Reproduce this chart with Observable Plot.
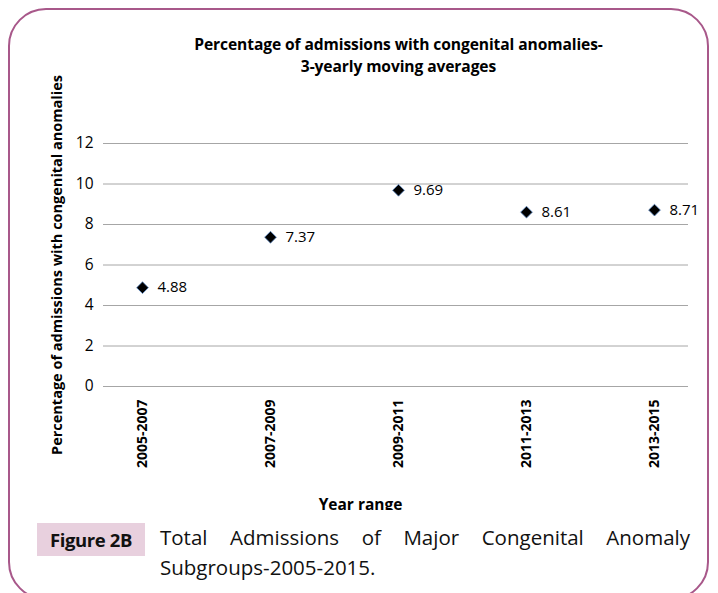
<!DOCTYPE html>
<html>
<head>
<meta charset="utf-8">
<script src="https://cdn.jsdelivr.net/npm/d3@7"></script>
<script src="https://cdn.jsdelivr.net/npm/@observablehq/plot@0.6"></script>
<style>
  html, body { margin: 0; padding: 0; background: #fff; }
  #wrap { position: relative; width: 718px; height: 593px; overflow: hidden; font-family: "Open Sans", sans-serif; }
  #frame { position: absolute; left: 8px; top: 8px; width: 701px; height: 592px; border: 2px solid #a8588a; border-radius: 38px; box-sizing: border-box; }
  #title { position: absolute; left: 0; width: 797px; top: 33px; text-align: center; font-weight: bold; font-size: 15.6px; line-height: 22px; color: #000; letter-spacing: -0.1px; }
  #chart { position: absolute; left: 0; top: 0; }
  #chart svg { overflow: hidden; }
  #figlabel { position: absolute; left: 37px; top: 523px; width: 108px; height: 33px; background: #e8d0de; font-weight: bold; font-size: 18.5px; line-height: 33px; text-align: center; color: #111; letter-spacing: -0.4px; }
  #caption { position: absolute; left: 160px; top: 522px; width: 530px; font-size: 20.5px; line-height: 30px; color: #111; }
  #caption .l1 { text-align: justify; text-align-last: justify; }
</style>
</head>
<body>
<div id="wrap">
  <div id="frame"></div>
  <div id="chart"></div>
  <div id="title">Percentage of admissions with congenital anomalies-<br>3-yearly moving averages</div>
  <div id="figlabel">Figure 2B</div>
  <div id="caption"><div class="l1">Total Admissions of Major Congenital Anomaly</div><div>Subgroups-2005-2015.</div></div>
</div>
<script>
const yearRanges = ["2005-2007", "2007-2009", "2009-2011", "2011-2013", "2013-2015"];
const percentages = [4.88, 7.37, 9.69, 8.61, 8.71];
const yTicks = [0, 2, 4, 6, 8, 10, 12];
const yLabel = "Percentage of admissions with congenital anomalies";
const xLabel = "Year range";

const data = yearRanges.map((r, i) => ({range: r, value: percentages[i]}));

const chart = Plot.plot({
  width: 718,
  height: 510,
  marginTop: 143,
  marginLeft: 108,
  marginRight: 30,
  marginBottom: 124,
  style: {fontFamily: "Open Sans, sans-serif", background: "transparent"},
  x: {type: "point", domain: yearRanges, padding: 0.26},
  y: {domain: [0, 12], ticks: yTicks},
  marks: [
    Plot.gridY(yTicks, {stroke: "#a6a6a6", strokeOpacity: 1}),
    Plot.ruleX([0], {frameAnchor: "left", stroke: "#a6a6a6"}),
    Plot.ruleY([0], {stroke: "#a6a6a6"}),
    Plot.axisY(yTicks, {tickSize: 5, stroke: "#a6a6a6", strokeOpacity: 1, tickFormat: () => "", label: null}),
    Plot.text(yTicks, {y: d => d, frameAnchor: "left", dx: -15, textAnchor: "end", fontSize: 15.5, fill: "#000"}),
    Plot.text([yLabel], {frameAnchor: "left", rotate: -90, dx: -51, textAnchor: "middle", lineAnchor: "middle", fontSize: 14.5, fontWeight: "bold", fill: "#000"}),
    Plot.axisX({tickSize: 0, tickRotate: -90, tickPadding: 13, fontSize: 14, fontWeight: "bold", fill: "#000", label: null}),
    Plot.text([xLabel], {frameAnchor: "bottom", dx: -38, dy: 119, lineAnchor: "middle", fontSize: 15.5, fontWeight: "bold", fill: "#000"}),
    Plot.dot(data, {x: "range", y: "value", symbol: "diamond2", r: 5.3, fill: "#000", stroke: "#5b86c0", strokeWidth: 0.8}),
    Plot.text(data, {x: "range", y: "value", text: d => d.value.toFixed(2), dx: 15, textAnchor: "start", fontSize: 15, fill: "#000"})
  ]
});
document.getElementById("chart").appendChild(chart);
</script>
</body>
</html>
